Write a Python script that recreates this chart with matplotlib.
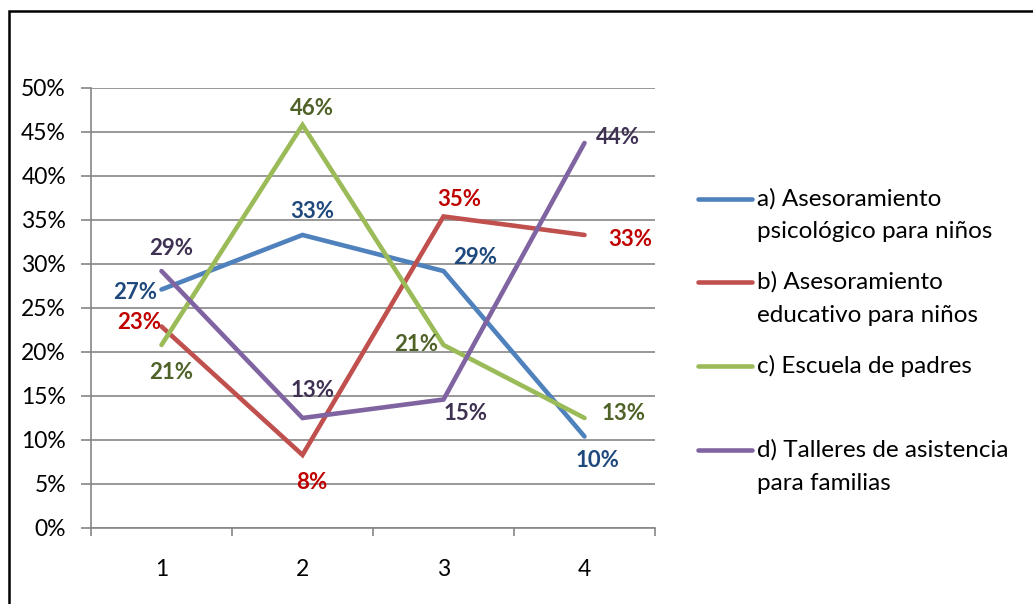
import matplotlib.pyplot as plt
from matplotlib.patches import Rectangle
from matplotlib.lines import Line2D
from matplotlib.ticker import PercentFormatter, FixedLocator

plt.rcParams['font.family'] = ['Lato', 'DejaVu Sans']

categories = [1, 2, 3, 4]
series_names = [
    "a) Asesoramiento\npsicológico para niños",
    "b) Asesoramiento\neducativo para niños",
    "c) Escuela de padres",
    "d) Talleres de asistencia\npara familias",
]
psicologico = [0.271, 0.333, 0.292, 0.104]
educativo = [0.229, 0.083, 0.354, 0.333]
escuela = [0.208, 0.458, 0.208, 0.125]
talleres = [0.292, 0.125, 0.146, 0.4375]
series_values = [psicologico, educativo, escuela, talleres]

line_colors = ['#4F81BD', '#C0504D', '#9BBB59', '#8064A2']
label_colors = ['#1F497D', '#C00000', '#4F6228', '#3F3151']
# label offsets (points) for each data label
label_offsets = [
    [(-19, -2), (7, 17), (23, 10), (9, -17)],
    [(-16, 3), (7, -20), (11, 12), (33, -3)],
    [(7, -20), (7, 12), (-20, 0), (28, 3)],
    [(7, 16), (7, 20), (16, -10), (24, 4)],
]


def pct(v):
    # round half up, like the spreadsheet labels
    return f"{int(v * 100 + 0.5)}%"


fig = plt.figure(figsize=(10.33, 6.04), dpi=100)
W, H = 1033, 604
ax = fig.add_axes([91 / W, (H - 528) / H, (655 - 91) / W, (528 - 88) / H])

for vals, lc, tc, offs in zip(series_values, line_colors, label_colors,
                              label_offsets):
    ax.plot(categories, vals, color=lc, lw=3.3,
            solid_capstyle='round', solid_joinstyle='miter', zorder=3)
    for x, v, off in zip(categories, vals, offs):
        ax.annotate(pct(v), (x, v), xytext=off, textcoords='offset points',
                    ha='center', va='center', color=tc, fontsize=16,
                    fontweight='bold', zorder=4)

ax.set_xlim(0.5, 4.5)
ax.set_ylim(0, 0.5)
ax.set_yticks([i * 0.05 for i in range(11)])
ax.yaxis.set_major_formatter(PercentFormatter(1.0, decimals=0))
ax.set_xticks(categories)
ax.xaxis.set_minor_locator(FixedLocator([0.5, 1.5, 2.5, 3.5, 4.5]))
ax.tick_params(axis='x', which='major', length=0, pad=22, labelsize=16.5)
ax.tick_params(axis='x', which='minor', length=6, width=1.2, color='#868686',
               direction='out')
ax.tick_params(axis='y', length=7, width=1.2, color='#868686', pad=11,
               labelsize=16.5)

ax.grid(axis='y', color='#868686', lw=1.2)
ax.set_axisbelow(True)
for side in ['top', 'right']:
    ax.spines[side].set_visible(False)
for side in ['left', 'bottom']:
    ax.spines[side].set_color('#868686')
    ax.spines[side].set_linewidth(1.2)

# legend entries, line level with the first text row
legend_rows = [199, 282, 366, 450]
row_step = 33
for name, lc, row in zip(series_names, line_colors, legend_rows):
    y = 1 - row / H
    fig.add_artist(Line2D([698 / W, 752 / W], [y, y], color=lc, lw=3.3,
                          solid_capstyle='round'))
    for i, part in enumerate(name.split('\n')):
        fig.text(757 / W, 1 - (row + i * row_step) / H, part, ha='left',
                 va='center', fontsize=17.5)

# outer frame around the chart
fig.add_artist(Rectangle((9 / W, -0.05), 1.0, 1 - 11 / H + 0.05,
                         transform=fig.transFigure, fill=False,
                         edgecolor='black', lw=1.8, clip_on=False))

fig.savefig('out.png', dpi=100)
